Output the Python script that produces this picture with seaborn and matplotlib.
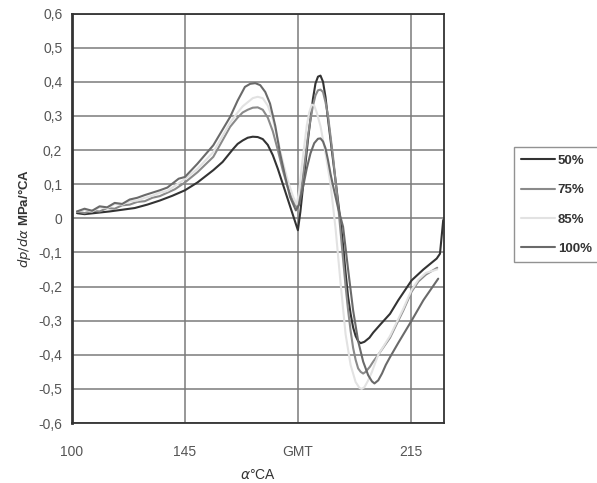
import numpy as np
import pandas as pd
import matplotlib
matplotlib.use('Agg')
import matplotlib.pyplot as plt
import seaborn as sns

# crank angle (deg) and dp/dalpha (MPa/degCA) for each load
x_50 = [102, 105, 110, 115, 120, 125, 130, 135, 140, 145, 150, 156.3, 160, 164.3, 166, 168, 170,
        172, 174, 176, 178, 180, 182, 184, 186, 188, 190, 191, 192, 193, 194, 195, 196, 197, 198,
        199, 200, 201, 202, 203, 204, 205, 206, 207, 208, 209, 210, 211, 212, 213, 214, 215,
        216.5, 218.5, 220, 223, 226.7, 230, 235.3, 240, 245.3, 246.6, 247.9]
y_50 = [0.015, 0.012, 0.016, 0.02, 0.025, 0.03, 0.04, 0.052, 0.066, 0.082, 0.105, 0.141, 0.165,
        0.204, 0.218, 0.228, 0.236, 0.239, 0.238, 0.232, 0.215, 0.185, 0.145, 0.1, 0.055, 0.01,
        -0.035, 0.02, 0.09, 0.16, 0.23, 0.29, 0.35, 0.395, 0.415, 0.418, 0.4, 0.355, 0.29, 0.23,
        0.17, 0.11, 0.05, -0.01, -0.08, -0.16, -0.23, -0.28, -0.32, -0.345, -0.36, -0.366,
        -0.362, -0.35, -0.335, -0.31, -0.28, -0.24, -0.182, -0.15, -0.118, -0.104, -0.005]

x_75 = [102, 105, 108, 111, 114, 117, 120, 123, 126, 129, 132, 135, 138, 141, 145, 150, 156.3, 163,
        166, 168, 170, 172, 174, 176, 178, 180, 182, 184, 186, 188, 189.8, 191, 192, 193, 194, 195,
        196, 197, 198, 199, 200, 201, 202, 203, 204, 205, 206, 207, 208, 209, 210, 211, 212, 213,
        214, 215, 216, 217, 218.7, 220, 222, 226.7, 230, 232, 235.3, 238, 241, 245.5]
y_75 = [0.02, 0.015, 0.022, 0.02, 0.03, 0.028, 0.038, 0.04, 0.048, 0.05, 0.06, 0.065, 0.075, 0.085,
        0.105, 0.135, 0.18, 0.268, 0.295, 0.31, 0.318, 0.324, 0.325, 0.318, 0.295, 0.255, 0.2,
        0.14, 0.09, 0.05, 0.03, 0.07, 0.12, 0.18, 0.24, 0.29, 0.33, 0.36, 0.375, 0.377, 0.37,
        0.34, 0.3, 0.24, 0.18, 0.11, 0.04, -0.04, -0.12, -0.2, -0.27, -0.33, -0.38, -0.415, -0.44,
        -0.45, -0.455, -0.45, -0.435, -0.42, -0.4, -0.35, -0.3, -0.27, -0.215, -0.185, -0.165,
        -0.145]

x_85 = [102, 105, 108, 111, 114, 117, 120, 123, 126, 129, 132, 135, 138, 142, 145, 150, 156.3, 163,
        166, 168, 170, 172, 174, 176, 178, 180, 182, 184, 186, 188, 189.5, 190.5, 191.5, 192.5,
        193.5, 194.5, 195.5, 196.5, 197.5, 199, 201, 203, 205, 207, 209, 211, 213, 214.5, 215.4,
        216.5, 218, 219.5, 222, 226.7, 230, 232, 235.3, 238, 241, 245.5]
y_85 = [0.02, 0.025, 0.02, 0.032, 0.03, 0.042, 0.04, 0.05, 0.052, 0.06, 0.066, 0.075, 0.08, 0.1,
        0.115, 0.145, 0.194, 0.28, 0.31, 0.328, 0.34, 0.352, 0.356, 0.352, 0.33, 0.29, 0.23,
        0.165, 0.11, 0.065, 0.04, 0.08, 0.15, 0.21, 0.27, 0.31, 0.333, 0.33, 0.31, 0.27, 0.19,
        0.1, -0.03, -0.19, -0.34, -0.43, -0.48, -0.497, -0.5, -0.495, -0.475, -0.45, -0.4,
        -0.345, -0.295, -0.265, -0.21, -0.18, -0.16, -0.15]

x_100 = [102, 105, 108, 111, 114, 117, 120, 123, 126, 129, 132, 135, 138, 142.5, 145, 150, 156.3,
         163, 166, 168.9, 171, 173, 175, 177, 178.9, 181, 182.9, 185, 186.9, 189.2, 190.5, 192,
         193.5, 195, 196.5, 198, 199, 200, 201, 202, 203, 204.1, 206, 208, 210, 212, 214, 216,
         218, 219.5, 220.5, 222, 223.5, 225, 226.7, 230, 235.3, 240, 245.9]
y_100 = [0.02, 0.028, 0.022, 0.035, 0.032, 0.045, 0.042, 0.055, 0.06, 0.068, 0.075, 0.082, 0.09,
         0.116, 0.121, 0.16, 0.214, 0.297, 0.345, 0.385, 0.394, 0.396, 0.39, 0.37, 0.336, 0.27,
         0.19, 0.12, 0.062, 0.023, 0.04, 0.09, 0.145, 0.19, 0.22, 0.233, 0.234, 0.225, 0.205,
         0.17, 0.13, 0.092, 0.03, -0.025, -0.15, -0.27, -0.36, -0.42, -0.46, -0.478, -0.484,
         -0.475, -0.455, -0.43, -0.407, -0.365, -0.3, -0.24, -0.177]

loads = ['50%', '75%', '85%', '100%']
colors = ['#333333', '#8a8a8a', '#e2e2e2', '#6a6a6a']
xticks = [100, 145, 190, 235]
xtick_labels = ['100', '145', 'GMT', '215']

frames = []
for name, xs, ys in zip(loads, [x_50, x_75, x_85, x_100], [y_50, y_75, y_85, y_100]):
    frames.append(pd.DataFrame({'angle': xs, 'rate': ys, 'load': name}))
df = pd.concat(frames, ignore_index=True)

sns.set_style('white')
plt.rcParams['font.family'] = ['Liberation Sans', 'DejaVu Sans']

fig = plt.figure(figsize=(5.97, 4.83), dpi=100)
ax = fig.add_axes([0.1206, 0.1242, 0.6231, 0.8478])

sns.lineplot(data=df, x='angle', y='rate', hue='load', hue_order=loads, palette=colors,
             estimator=None, sort=False, linewidth=1.5, ax=ax)
for ln in ax.lines:
    ln.set_solid_joinstyle('round')
    ln.set_solid_capstyle('round')

ax.set_xlim(100, 248.2)
ax.set_ylim(-0.6, 0.6)
ax.set_xticks(xticks)
ax.set_xticklabels(xtick_labels)
yt = np.round(np.arange(-0.6, 0.61, 0.1), 1)
ax.set_yticks(yt)
ax.set_yticklabels([('%.1f' % v).replace('.', ',').replace('-0,0', '0').replace('0,0', '0') for v in yt])
ax.tick_params(axis='both', length=0, labelsize=10, labelcolor='#555555')
ax.tick_params(axis='x', pad=16)
ax.tick_params(axis='y', pad=7)
ax.grid(True, color='#7a7a7a', linewidth=1.1)
for s in ax.spines.values():
    s.set_color('#333333')
    s.set_linewidth(1.3)
ax.spines['left'].set_linewidth(2)

ax.set_xlabel(r'$\it{\alpha}$°CA', fontsize=10, color='#333333', labelpad=6)
ax.set_ylabel(r'$\bf{\it{dp/d\alpha}}$ MPa/°CA', fontsize=9.5, color='#333333',
              fontweight='bold', labelpad=4)

handles, labels = ax.get_legend_handles_labels()
leg = ax.legend(handles, labels, loc='center left', bbox_to_anchor=(1.18, 0.533),
                frameon=True, fancybox=False, handlelength=2.6, handletextpad=0.2,
                labelspacing=1.3, borderpad=0.55, borderaxespad=0.2, fontsize=9.5)
leg.get_frame().set_edgecolor('#777777')
leg.get_frame().set_linewidth(1.0)
for t in leg.get_texts():
    t.set_fontweight('bold')
    t.set_color('#333333')

fig.savefig('out.png', dpi=100)
